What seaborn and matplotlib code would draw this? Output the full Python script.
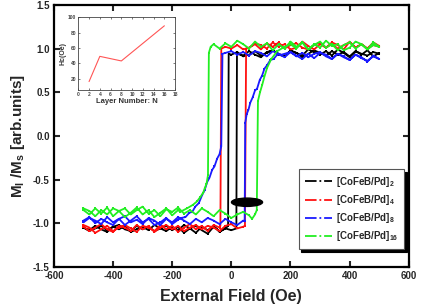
import numpy as np
import pandas as pd
import matplotlib
matplotlib.use("Agg")
import matplotlib.pyplot as plt
import seaborn as sns
from matplotlib.lines import Line2D
from matplotlib.patches import Ellipse

# === Data: hysteresis loops (field in Oe, normalised magnetisation) ===
# each sample = descending branch (+500 -> -500) followed by ascending branch (-500 -> +500)
g20 = lambda a, b: list(range(a, b - 1, -20)) if a > b else list(range(a, b + 1, 20))

# [CoFeB/Pd]2
black_desc_f = g20(500, 0) + [-9, -11] + g20(-20, -500)
black_desc_m = [0.95, 0.91, 0.98, 0.93, 0.97, 0.90, 0.95, 0.99, 0.92, 0.97, 0.93, 0.96, 0.99,
                0.92, 0.95, 0.98, 0.91, 0.94, 0.98, 0.95, 0.92, 0.97, 0.93, 0.91, 0.96, 0.93,
                0.94, -1.03,
                -1.06, -1.10, -1.03, -1.08, -1.04, -1.11, -1.06, -1.02, -1.08, -1.04, -1.09, -1.06,
                -1.02, -1.08, -1.04, -1.07, -1.10, -1.03, -1.07, -1.04, -1.08, -1.03, -1.06, -1.09, -1.05]
black_asc_f = g20(-500, 0) + [17, 19] + g20(40, 500)
black_asc_m = [-1.05, -1.08, -1.03, -1.07, -1.10, -1.04, -1.02, -1.07, -1.09, -1.03, -1.07, -1.04, -1.09,
               -1.06, -1.03, -1.08, -1.04, -1.11, -1.06, -1.03, -1.08, -1.12, -1.04, -1.09, -1.06, -1.08,
               -1.06, 0.94,
               0.92, 0.97, 0.93, 0.90, 0.96, 0.98, 0.93, 0.91, 0.97, 0.95, 0.90, 0.94,
               0.98, 0.95, 0.92, 0.97, 0.93, 0.96, 0.91, 0.97, 0.94, 0.92, 0.96, 0.94]

# [CoFeB/Pd]4
red_desc_f = g20(500, -20) + [-34, -37] + g20(-40, -500)
red_desc_m = [1.03, 1.07, 1.00, 1.05, 1.01, 1.08, 0.99, 1.04, 1.07, 1.01, 1.05, 0.99, 1.03, 1.08,
              1.01, 0.99, 1.05, 1.02, 1.07, 1.00, 1.04, 1.06, 1.01, 0.99, 1.04, 1.00, 1.02,
              1.00, -1.03,
              -1.05, -1.02, -1.09, -1.03, -1.07, -1.01, -1.05, -1.10, -1.03, -1.07, -1.02, -1.09,
              -1.05, -1.03, -1.10, -1.06, -1.02, -1.05, -1.09, -1.03, -1.07, -1.11, -1.05, -1.02]
red_asc_f = g20(-500, 40) + [46, 50] + g20(60, 500)
red_asc_m = [-1.04, -1.09, -1.05, -1.01, -1.07, -1.10, -1.03, -1.05, -1.09, -1.02, -1.07, -1.03, -1.10, -1.05,
             -1.02, -1.07, -1.03, -1.09, -1.05, -1.02, -1.07, -1.03, -1.05, -1.09, -1.03, -1.01, -1.06, -1.04,
             -1.03, 1.00,
             1.01, 1.05, 0.99, 1.06, 1.02, 1.07, 1.00, 1.04, 1.06, 1.01, 0.99, 1.04,
             1.07, 1.01, 1.05, 1.00, 1.04, 1.07, 1.01, 1.05, 1.00, 1.04, 1.02]

# [CoFeB/Pd]8
blue_desc_f = g20(500, -20) + [-30, -34, -40, -48, -57, -65, -74, -82, -90, -99, -110, -122,
                               -132, -142, -155, -170] + g20(-180, -500)
blue_desc_m = [0.88, 0.92, 0.85, 0.90, 0.93, 0.87, 0.91, 0.94, 0.88, 0.93, 0.95, 0.89, 0.94, 0.88,
               0.92, 0.96, 0.90, 0.94, 0.97, 0.91, 0.95, 0.97, 0.92, 0.96, 0.93, 0.97, 0.95,
               0.94, -0.12, -0.21, -0.26, -0.35, -0.39, -0.48, -0.53, -0.62, -0.68, -0.77, -0.81,
               -0.87, -0.88, -0.93, -0.94,
               -0.96, -1.01, -0.94, -0.99, -1.02, -0.95, -0.99, -0.92, -0.97, -1.02, -0.95, -0.99,
               -0.93, -1.01, -0.97, -0.94, -0.99]
blue_asc_f = g20(-500, 40) + [45, 47, 52, 58, 64, 72, 80, 87, 96, 104, 112, 121, 132, 143,
                              155, 170] + g20(180, 500)
blue_asc_m = [-0.97, -0.93, -1.00, -0.95, -0.99, -1.02, -0.95, -0.92, -0.99, -0.96, -1.01, -0.94, -0.97, -1.02,
              -0.95, -0.99, -0.93, -0.97, -1.01, -0.95, -0.99, -0.94, -0.97, -1.01, -0.95, -0.99, -1.02, -0.97,
              -0.98, 0.15, 0.25, 0.30, 0.38, 0.44, 0.52, 0.54, 0.64, 0.69, 0.77, 0.81, 0.87, 0.88,
              0.93, 0.93,
              0.94, 0.96, 0.91, 0.95, 0.90, 0.94, 0.96, 0.91, 0.88, 0.94, 0.90, 0.87,
              0.93, 0.89, 0.86, 0.91, 0.88]

# [CoFeB/Pd]16
green_desc_f = g20(500, -60) + [-70, -76, -79, -84, -90, -95, -105, -116, -130, -150, -173] + g20(-180, -500)
green_desc_m = [1.02, 1.07, 0.99, 1.05, 1.08, 1.01, 0.98, 1.05, 1.03, 1.09, 1.01, 1.05, 0.99, 1.07,
                1.02, 1.08, 1.00, 1.05, 0.98, 1.06, 1.02, 1.08, 1.00, 1.05, 1.09, 1.02, 1.06, 1.00, 1.05,
                1.02, 0.95, -0.45, -0.55, -0.60, -0.65, -0.70, -0.75, -0.79, -0.83, -0.87,
                -0.85, -0.91, -0.83, -0.88, -0.93, -0.85, -0.90, -0.82, -0.88, -0.93, -0.86, -0.83,
                -0.90, -0.85, -0.92, -0.86, -0.83]
green_asc_f = g20(-500, 60) + [70, 80, 86, 90, 97, 104, 112, 121, 135, 155, 175] + g20(200, 500)
green_asc_m = [-0.85, -0.90, -0.83, -0.89, -0.82, -0.92, -0.86, -0.83, -0.90, -0.85, -0.81, -0.89, -0.85, -0.92,
               -0.84, -0.87, -0.82, -0.89, -0.85, -0.90, -0.83, -0.87, -0.92, -0.85, -0.89, -0.94, -0.90, -0.87,
               -0.91,
               -0.95, -0.90, -0.85, 0.40, 0.50, 0.58, 0.68, 0.78, 0.88, 0.97, 1.01,
               1.05, 1.00, 1.07, 0.99, 1.04, 1.08, 1.01, 1.05, 0.98, 1.04, 1.07, 1.00,
               1.05, 0.99, 1.04, 1.02]

samples = ["[CoFeB/Pd]$_2$", "[CoFeB/Pd]$_4$", "[CoFeB/Pd]$_8$", "[CoFeB/Pd]$_{16}$"]
colors = ["#000000", "#ff1010", "#1a1aff", "#22ee22"]

# inset: coercivity vs number of layers
layer_n = [2, 4, 8, 16]
hc_oe = [16, 49, 43, 89]

# ellipse marker seen in the figure
ell_center = (53, -0.76)
ell_size = (105, 0.095)

# === Build table ===
branches = [
    (black_desc_f + black_asc_f, black_desc_m + black_asc_m),
    (red_desc_f + red_asc_f, red_desc_m + red_asc_m),
    (blue_desc_f + blue_asc_f, blue_desc_m + blue_asc_m),
    (green_desc_f + green_asc_f, green_desc_m + green_asc_m),
]
rows = []
for name, (f, m) in zip(samples, branches):
    assert len(f) == len(m), (name, len(f), len(m))
    for i, (x, y) in enumerate(zip(f, m)):
        rows.append({"sample": name, "order": i, "field": x, "m": y})
df = pd.DataFrame(rows)

# === Plot ===
sns.set_style("ticks")
plt.rcParams["font.family"] = ["Liberation Sans", "DejaVu Sans"]
plt.rcParams["font.weight"] = "bold"
plt.rcParams["mathtext.fontset"] = "custom"
plt.rcParams["mathtext.rm"] = "Liberation Sans:bold"
plt.rcParams["mathtext.it"] = "Liberation Sans:bold"
plt.rcParams["mathtext.bf"] = "Liberation Sans:bold"

fig = plt.figure(figsize=(4.21, 3.05), dpi=100)
ax = fig.add_axes([0.128, 0.125, 0.843, 0.859])

sns.lineplot(data=df, x="field", y="m", hue="sample", palette=colors, sort=False,
             estimator=None, units="sample", lw=1.3, marker="s", markersize=2,
             markeredgewidth=0, legend=False, ax=ax)

ax.add_patch(Ellipse(ell_center, ell_size[0], ell_size[1], color="black", zorder=5))

ax.set_xlim(-600, 600)
ax.set_ylim(-1.5, 1.5)
ax.set_xticks(range(-600, 601, 200))
ax.set_yticks(np.arange(-1.5, 1.51, 0.5))
ax.set_xticklabels([str(v) for v in range(-600, 601, 200)])
ax.set_yticklabels([f"{v:.1f}" for v in np.arange(-1.5, 1.51, 0.5)])
ax.tick_params(direction="in", length=4, width=1.5, labelsize=7, top=True, right=True, pad=3)
for s in ax.spines.values():
    s.set_linewidth(1.6)
    s.set_color("black")
ax.set_xlabel("External Field (Oe)", fontsize=11.5, fontweight="bold", labelpad=6)
ax.set_ylabel("M$_l$ /M$_s$ [arb.units]", fontsize=11, fontweight="bold", labelpad=4)

handles = [Line2D([], [], color=c, lw=1.3, ls="-.") for c in colors]
leg = ax.legend(handles, samples, loc="lower right", bbox_to_anchor=(1.0, 0.05),
                fontsize=7, fancybox=False, framealpha=1, edgecolor="#555555",
                handlelength=2.8, handletextpad=0.4, labelspacing=0.42, borderpad=0.6,
                shadow={"color": "black", "alpha": 1})
leg.get_frame().set_linewidth(0.8)

# inset
ins = fig.add_axes([0.186, 0.705, 0.230, 0.238])
sns.lineplot(x=layer_n, y=hc_oe, color="#ff5555", lw=0.8, ax=ins)
ins.set_xlim(0, 18)
ins.set_ylim(5, 100)
ins.set_xticks(range(0, 19, 2))
ins.set_yticks(range(20, 101, 20))
ins.tick_params(direction="in", length=1.5, width=0.5, labelsize=3.5, pad=1.5,
                top=True, right=True, colors="#444444")
for s in ins.spines.values():
    s.set_linewidth(0.6)
    s.set_color("#444444")
ins.set_xlabel("Layer Number: N", fontsize=5.5, fontweight="bold", labelpad=1, color="#333333")
ins.set_ylabel("Hc(Oe)", fontsize=5, fontweight="bold", labelpad=1, color="#333333")

fig.savefig("out.png", dpi=100)
